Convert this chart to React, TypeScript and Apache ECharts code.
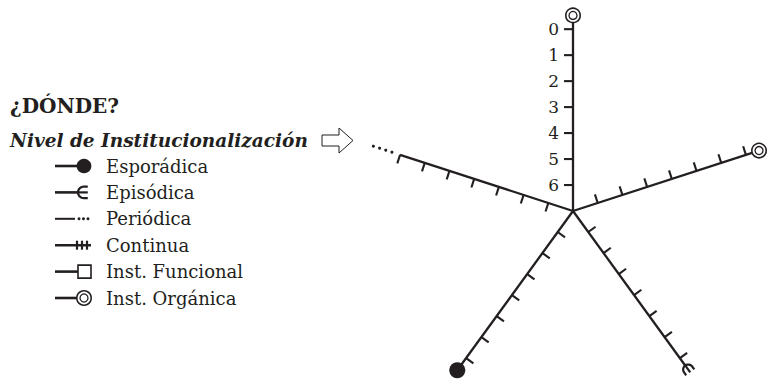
import React, { useEffect, useRef } from 'react';
import * as echarts from 'echarts';

// ---- data ----
const axisAngles = [90, 18, 162, 234, 306];
const axisMarkers = ['organica', 'organica', 'periodica', 'esporadica', 'episodica'];
const axisEnds = [-0.53, -0.53, 0, -0.58, -0.35];
const periodicDots = [-0.33, -0.58, -0.83, -1.08];
const tickValues = [0, 1, 2, 3, 4, 5, 6];
const tickLabels = ['0', '1', '2', '3', '4', '5', '6'];
const centerValue = 7;
const axisMin = -1.2;
const labeledAxis = 0;

const titleText = '¿DÓNDE?';
const subtitleText = 'Nivel de Institucionalización';
const legendNames = ['Esporádica', 'Episódica', 'Periódica', 'Continua', 'Inst. Funcional', 'Inst. Orgánica'];
const legendMarkers = ['esporadica', 'episodica', 'periodica', 'continua', 'funcional', 'organica'];

// ---- styles ----
const INK = '#231f20';
const SERIF = '"DejaVu Serif", "Liberation Serif", serif';
const TICK = 9;

function ln(a: number[], b: number[], w: number) {
  return { type: 'line', shape: { x1: a[0], y1: a[1], x2: b[0], y2: b[1] }, style: { stroke: INK, lineWidth: w } };
}
function add(a: number[], v: number[], k: number) {
  return [a[0] + v[0] * k, a[1] + v[1] * k];
}

function markerShapes(kind: string, pt: number[], u: number[], p: number[], s: number, dots: number[][]) {
  const out: any[] = [];
  if (kind === 'organica') {
    out.push({ type: 'circle', shape: { cx: pt[0], cy: pt[1], r: 7.2 * s }, style: { fill: '#fff', stroke: INK, lineWidth: 1.6 } });
    out.push({ type: 'circle', shape: { cx: pt[0], cy: pt[1], r: 4 * s }, style: { fill: 'none', stroke: INK, lineWidth: 1.3 } });
  } else if (kind === 'esporadica') {
    out.push({ type: 'circle', shape: { cx: pt[0], cy: pt[1], r: 8 * s }, style: { fill: INK } });
  } else if (kind === 'episodica') {
    const ra = 5 * s;
    const C = add(pt, u, ra);
    const pts: number[][] = [];
    pts.push(add(add(C, p, ra), u, 3.5 * s));
    for (let k = 0; k <= 16; k++) {
      const th = Math.PI / 2 + (Math.PI * k) / 16;
      pts.push([C[0] + ra * (Math.cos(th) * u[0] + Math.sin(th) * p[0]), C[1] + ra * (Math.cos(th) * u[1] + Math.sin(th) * p[1])]);
    }
    pts.push(add(add(C, p, -ra), u, 3.5 * s));
    out.push({ type: 'polyline', shape: { points: pts }, style: { stroke: INK, lineWidth: 2.2, fill: 'none' } });
    out.push(ln(pt, add(C, u, 3.5 * s), 2.2));
  } else if (kind === 'periodica') {
    dots.forEach((d) => out.push({ type: 'circle', shape: { cx: d[0], cy: d[1], r: 1.5 }, style: { fill: INK } }));
  } else if (kind === 'continua') {
    [0, 5, 10].forEach((o) => {
      const q = add(pt, u, o);
      out.push(ln(add(q, p, -4.5), add(q, p, 4.5), 2.2));
    });
  } else if (kind === 'funcional') {
    out.push({ type: 'rect', shape: { x: pt[0], y: pt[1] - 6.5, width: 13, height: 13 }, style: { fill: '#fff', stroke: INK, lineWidth: 1.6 } });
  }
  return out;
}

function buildLegend() {
  const els: any[] = [];
  els.push({ type: 'text', x: 10, y: 106, style: { text: titleText, font: 'bold 20px ' + SERIF, fill: INK, textVerticalAlign: 'middle', verticalAlign: 'middle' } });
  els.push({ type: 'text', x: 10, y: 140, style: { text: subtitleText, font: 'italic bold 18.5px ' + SERIF, fill: INK, textVerticalAlign: 'middle', verticalAlign: 'middle' } });
  els.push({
    type: 'polygon',
    shape: { points: [[322, 135], [339, 135], [339, 128], [353, 140.5], [339, 153], [339, 146], [322, 146]] },
    style: { fill: '#fff', stroke: INK, lineWidth: 1 },
  });
  const y0 = 166;
  const step = 26.4;
  const lineEnd: Record<string, number> = { esporadica: 84, episodica: 78, periodica: 75, continua: 91, funcional: 78, organica: 84 };
  legendMarkers.forEach((m, i) => {
    const y = y0 + i * step;
    const pt = [lineEnd[m], y];
    els.push(ln([55, y], pt, m === 'periodica' ? 2 : 2.6));
    const dots = m === 'periodica' ? [[79, y], [83.5, y], [88, y]] : [];
    const mpt = m === 'continua' ? [77, y] : pt;
    const s = m === 'esporadica' ? 0.92 : m === 'episodica' ? 1.15 : 1;
    els.push(...markerShapes(m, mpt, [1, 0], [0, 1], s, dots));
    els.push({ type: 'text', x: 106, y: y, style: { text: legendNames[i], font: '18px ' + SERIF, fill: INK, textVerticalAlign: 'middle', verticalAlign: 'middle' } });
  });
  return els;
}

const option: any = {
  animation: false,
  polar: { center: [573, 211], radius: 213 },
  angleAxis: { type: 'value', min: 0, max: 360, startAngle: 0, clockwise: false, show: false, axisLine: { show: false }, axisTick: { show: false }, axisLabel: { show: false }, splitLine: { show: false } },
  radiusAxis: { type: 'value', min: axisMin, max: centerValue, inverse: true, show: false, axisLine: { show: false }, axisTick: { show: false }, axisLabel: { show: false }, splitLine: { show: false } },
  graphic: buildLegend(),
  series: [
    {
      type: 'custom',
      coordinateSystem: 'polar',
      silent: true,
      data: axisAngles.map((a, i) => [axisEnds[i], a]),
      renderItem: (params: any, api: any) => {
        const idx = params.dataIndex;
        const angle = axisAngles[idx];
        const marker = axisMarkers[idx];
        const c = api.coord([centerValue, angle]);
        const e = api.coord([axisEnds[idx], angle]);
        const far = api.coord([tickValues[0], angle]);
        const len = Math.hypot(far[0] - c[0], far[1] - c[1]);
        const u = [(far[0] - c[0]) / len, (far[1] - c[1]) / len];
        const p = [u[1], -u[0]];
        const children: any[] = [];
        children.push(ln(c, e, 2.3));
        tickValues.forEach((v, k) => {
          const t = api.coord([v, angle]);
          children.push(ln(t, add(t, p, TICK), 2.1));
          if (idx === labeledAxis) {
            const lp = add(t, p, 14);
            children.push({
              type: 'text', x: lp[0], y: lp[1],
              style: { text: tickLabels[k], font: '17px ' + SERIF, fill: INK, textAlign: 'right', align: 'right', textVerticalAlign: 'middle', verticalAlign: 'middle' },
            });
          }
        });
        const dots = marker === 'periodica' ? periodicDots.map((v) => api.coord([v, angle])) : [];
        children.push(...markerShapes(marker, e, u, p, 1, dots));
        return { type: 'group', children };
      },
    },
  ],
};

export default function App() {
  const ref = useRef<HTMLDivElement>(null);
  useEffect(() => {
    const chart = echarts.init(ref.current!, null, { renderer: 'svg' });
    chart.setOption(option);
    return () => chart.dispose();
  }, []);
  return <div ref={ref} style={{ position: 'absolute', left: 0, top: 0, width: 768, height: 379 }} />;
}
